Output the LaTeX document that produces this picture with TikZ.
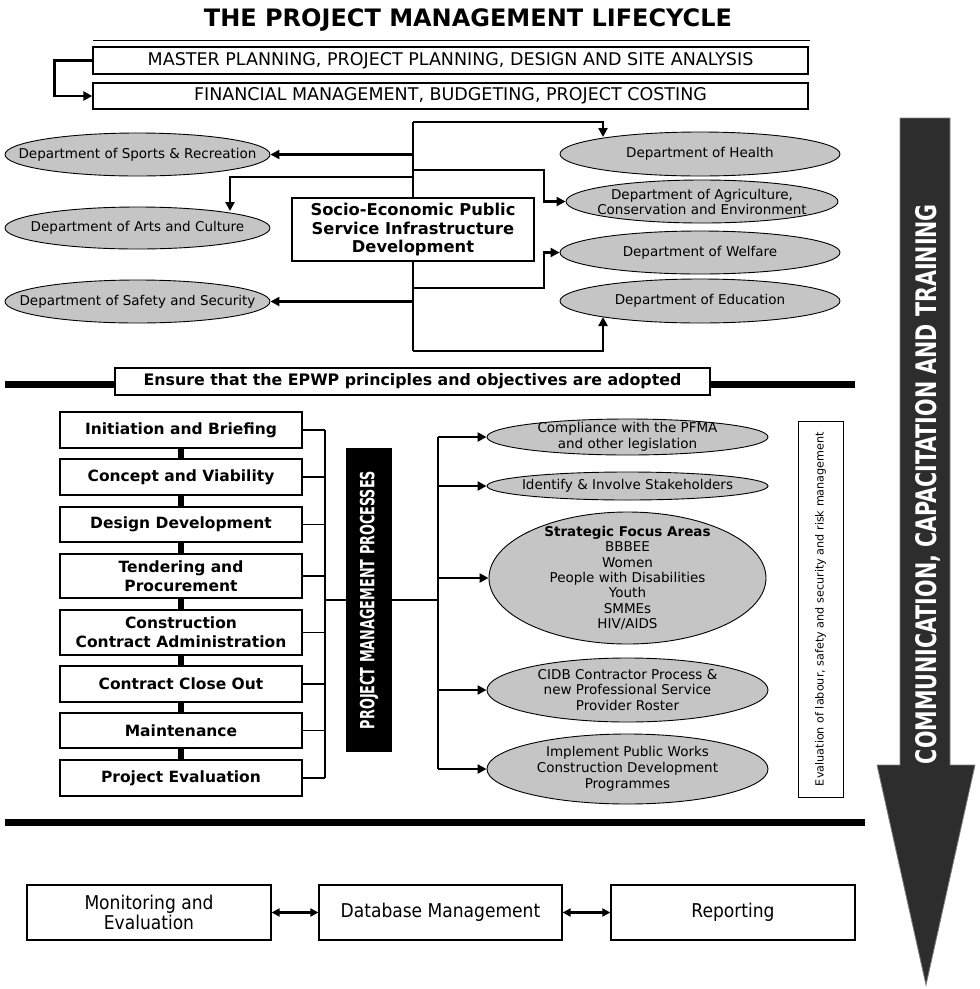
\documentclass[tikz,border=0pt]{standalone}
\usepackage{fontspec}
\setmainfont{DejaVu Sans}
\newfontfamily\cond{DejaVu Sans Condensed}
\usepackage{graphicx}
\usetikzlibrary{arrows.meta,shapes.geometric,backgrounds}
\definecolor{ellgray}{RGB}{197,197,197}
\definecolor{bigarrow}{RGB}{45,45,45}
\newcommand\fsz[2]{\fontsize{#1}{#2}\selectfont}
\begin{document}
\begin{tikzpicture}[x=1pt,y=-1pt,
  box/.style={draw=black, line width=1.3pt, fill=white, inner sep=0pt, align=center},
  ell/.style={ellipse, draw=black, line width=0.9pt, fill=ellgray, inner xsep=-80pt, inner ysep=-12pt, align=center, font=\fsz{13.5}{16}},
  conn/.style={line width=2.3pt},
  arr/.style={conn, -{Triangle[length=9pt,width=9pt]}},
  dbl/.style={conn, {Triangle[length=8pt,width=8pt]}-{Triangle[length=8pt,width=8pt]}},
  stage/.style={box, minimum width=242pt, font=\bfseries\fsz{15.5}{19}},
  thinline/.style={line width=1.1pt},
  bottombox/.style={box, minimum width=244pt, minimum height=55pt, font=\cond\fsz{19}{19.5}}
]
\useasboundingbox (0,0) rectangle (980,989);

% title
\node[font=\bfseries\fsz{24}{26}] (title) at (468,20) {THE PROJECT MANAGEMENT LIFECYCLE};
\draw[line width=1pt] (93,40) -- (810,40);

\node[box, minimum width=715pt, minimum height=27pt, font=\fsz{17.5}{19}] (mp) at (450.5,60.5)
  {MASTER PLANNING, PROJECT PLANNING, DESIGN AND SITE ANALYSIS};
\node[box, minimum width=715pt, minimum height=26pt, font=\fsz{17.5}{19}] (fm) at (450.5,96)
  {FINANCIAL MANAGEMENT, BUDGETING, PROJECT COSTING};
\draw[arr] (mp.west) -- ++(-38,0) |- (fm.west);

% departments
\node[ell, minimum width=265pt, minimum height=43pt] (sports) at (137.5,154.5) {Department of Sports \& Recreation};
\node[ell, minimum width=265pt, minimum height=42pt] (arts) at (137.5,228) {Department of Arts and Culture};
\node[ell, minimum width=265pt, minimum height=43pt] (safety) at (137.5,301.5) {Department of Safety and Security};
\node[ell, minimum width=280pt, minimum height=44pt] (health) at (700,154) {Department of Health};
\node[ell, minimum width=272pt, minimum height=43pt, font=\fsz{13.5}{15}] (agri) at (702,201.5) {Department of Agriculture,\\Conservation and Environment};
\node[ell, minimum width=280pt, minimum height=43pt] (welfare) at (700,252.5) {Department of Welfare};
\node[ell, minimum width=280pt, minimum height=44pt] (edu) at (700,301) {Department of Education};

\node[box, minimum width=242pt, minimum height=63pt, font=\bfseries\fsz{16.3}{18.5}] (soc) at (413,229.5)
  {Socio-Economic Public\\Service Infrastructure\\Development};

\coordinate (ttop) at (413,122);
\coordinate (tbot) at (413,351);
\coordinate (hk) at (603,122);
\coordinate (hin) at (603,137);
\coordinate (t2) at (413,170);
\coordinate (k2) at (544,170);
\coordinate (t3) at (413,288);
\coordinate (k3) at (544,288);
\coordinate (ek) at (603,351);
\coordinate (ein) at (603,317);
\coordinate (ta) at (413,177);
\coordinate (ak) at (230,177);
\coordinate (ain) at (230,211);

\begin{pgfonlayer}{background}
\draw[conn] (ttop) -- (tbot);
\end{pgfonlayer}
\draw[arr] (ttop) -- (hk) -- (hin);
\draw[arr] (t2) -- (k2) |- (agri.west);
\draw[arr] (t3) -- (k3) |- (welfare.west);
\draw[arr] (tbot) -- (ek) -- (ein);
\draw[arr] (sports.east -| ttop) -- (sports.east);
\draw[arr] (ta) -- (ak) -- (ain);
\draw[arr] (safety.east -| ttop) -- (safety.east);

% EPWP
\draw[line width=7pt] (5,384) -- (855,384);
\node[box, minimum width=595pt, minimum height=27pt, font=\bfseries\fsz{15.8}{18}] (epwp) at (412.5,381.5)
  {Ensure that the EPWP principles and objectives are adopted};

% stages
\node[stage, minimum height=36pt] (s1) at (181,430) {Initiation and Briefing};
\node[stage, minimum height=36pt] (s2) at (181,477) {Concept and Viability};
\node[stage, minimum height=35pt] (s3) at (181,524.5) {Design Development};
\node[stage, minimum height=44pt] (s4) at (181,576) {Tendering and\\Procurement};
\node[stage, minimum height=45pt] (s5) at (181,632.5) {Construction\\Contract Administration};
\node[stage, minimum height=36pt] (s6) at (181,684) {Contract Close Out};
\node[stage, minimum height=35pt] (s7) at (181,730.5) {Maintenance};
\node[stage, minimum height=36pt] (s8) at (181,778) {Project Evaluation};
\foreach \a/\b in {s1/s2,s2/s3,s3/s4,s4/s5,s5/s6,s6/s7,s7/s8}
  \draw[line width=5.5pt] (\a.south) -- (\b.north);

\coordinate (bx) at (325,430);
\foreach \s in {s1,s2,s3,s4,s5,s6,s7,s8}
  \draw[thinline] (\s.east) -- (\s.east -| bx);
\draw[thinline] (s1.east -| bx) -- (s8.east -| bx);

\node[fill=black, minimum width=46pt, minimum height=304pt, inner sep=0pt] (pmp) at (369,600)
  {\rotatebox{90}{\color{white}\resizebox{258pt}{14.5pt}{\cond\bfseries PROJECT MANAGEMENT PROCESSES}}};
\draw[thinline] (pmp.west -| bx) -- (pmp.west);

% right side ellipses
\node[ell, minimum width=281pt, minimum height=36pt, font=\fsz{13.5}{15.5}] (comp) at (627.5,437) {Compliance with the PFMA\\and other legislation};
\node[ell, minimum width=281pt, minimum height=28pt] (ident) at (627.5,486) {Identify \& Involve Stakeholders};
\node[ell, minimum width=277pt, minimum height=132pt, font=\fsz{13.5}{15.3}] (strat) at (627.5,578) {\textbf{Strategic Focus Areas}\\BBBEE\\Women\\People with Disabilities\\Youth\\SMMEs\\HIV/AIDS};
\node[ell, minimum width=281pt, minimum height=64pt, font=\fsz{13.5}{15.8}] (cidb) at (627.5,690) {CIDB Contractor Process \&\\new Professional Service\\Provider Roster};
\node[ell, minimum width=281pt, minimum height=70pt, font=\fsz{13.5}{15.8}] (impl) at (627.5,769) {Implement Public Works\\Construction Development\\Programmes};

\coordinate (rt) at (438,600);
\draw[conn] (pmp.east) -- (rt);
\draw[conn] (comp.west -| rt) -- (impl.west -| rt);
\foreach \e in {comp,ident,strat,cidb,impl}
  \draw[arr] (\e.west -| rt) -- (\e.west);

\node[box, line width=1pt, minimum width=45pt, minimum height=376pt] (evalbox) at (820.5,609)
  {\rotatebox{90}{\fsz{11.2}{13}Evaluation of labour, safety and security and risk management}};

% bottom
\draw[line width=7pt] (5,822) -- (865,822);
\node[bottombox] (mon) at (149,912.5) {Monitoring and\\Evaluation};
\node[bottombox, minimum width=243pt] (db) at (440.5,912.5) {Database Management};
\node[bottombox] (rep) at (733,912.5) {Reporting};
\draw[dbl] (mon.east) -- (db.west);
\draw[dbl] (db.east) -- (rep.west);

% big arrow
\path[fill=bigarrow, draw=gray, line width=0.8pt] (900,118) -- (950,118) -- (950,765) -- (975,765) -- (926,985) -- (877,765) -- (900,765) -- cycle;
\node[text=white, rotate=90] (comm) at (928,484) {\resizebox{560pt}{21pt}{\cond\bfseries COMMUNICATION, CAPACITATION AND TRAINING}};
\end{tikzpicture}
\end{document}
